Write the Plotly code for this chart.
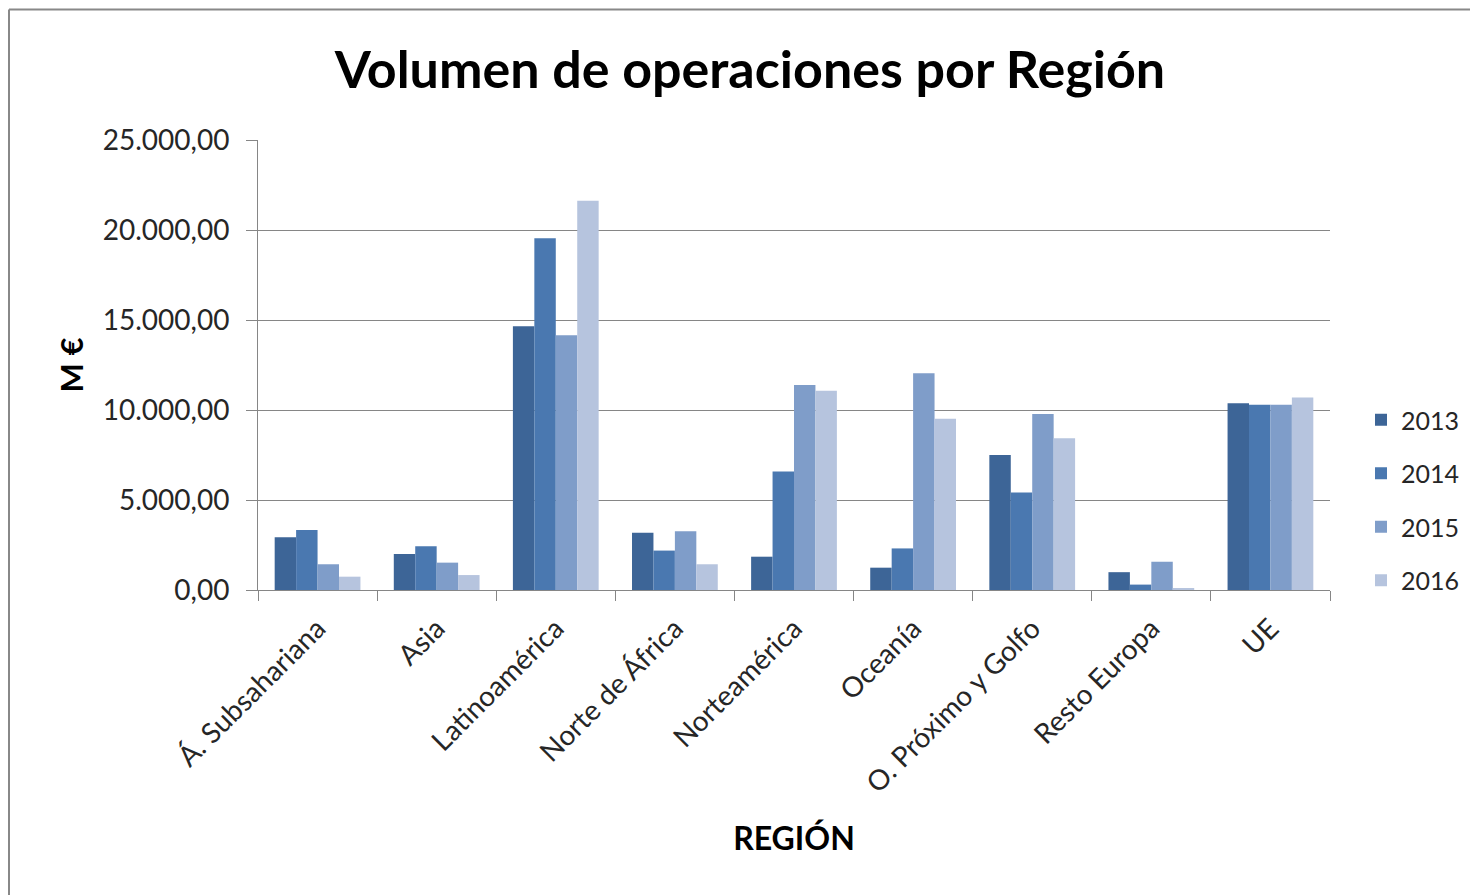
import plotly.graph_objects as go

regions = ["Á. Subsahariana", "Asia", "Latinoamérica", "Norte de África",
           "Norteamérica", "Oceanía", "O. Próximo y Golfo", "Resto Europa", "UE"]
years = ["2013", "2014", "2015", "2016"]

v2013 = [2930, 2000, 14650, 3185, 1850, 1240, 7500, 990, 10380]
v2014 = [3330, 2430, 19540, 2190, 6590, 2310, 5410, 300, 10290]
v2015 = [1430, 1520, 14150, 3260, 11390, 12040, 9780, 1570, 10290]
v2016 = [740, 830, 21630, 1430, 11070, 9520, 8430, 70, 10700]

series = [v2013, v2014, v2015, v2016]
colors = ["#3D6597", "#4A78B0", "#7F9DC9", "#B6C4DE"]

FONT = "Lato"

fig = go.Figure()
for i, (y, vals) in enumerate(zip(years, series)):
    fig.add_trace(go.Bar(
        name=y, x=regions, y=vals,
        marker=dict(color=colors[i], line=dict(width=0)),
        legendgroup=y,
    ))

# page has an 8px body margin; figure coordinates = page - 8
W, H = 1470, 887
L, T = 250, 132
pw, ph = 1072, 450
R, B = W - L - pw, H - T - ph

def px2x(p):
    return (p - L) / pw

def px2y(p):
    return (T + ph - p) / ph

fig.update_layout(
    width=W, height=H,
    margin=dict(l=L, r=R, t=T, b=B, autoexpand=False),
    paper_bgcolor="white", plot_bgcolor="white",
    separators=",.",
    barmode="group", bargap=0.28, bargroupgap=0,
    title=dict(text="<b>Volumen de operaciones por Región</b>",
               x=742 / W, xanchor="center", y=1 - 62 / H, yanchor="middle",
               font=dict(family=FONT, size=52, color="#000000")),
    font=dict(family=FONT, color="#262626"),
    legend=dict(x=px2x(1353), xanchor="left", y=px2y(389), yanchor="top",
                font=dict(family=FONT, size=25, color="#262626"),
                tracegroupgap=18, bgcolor="rgba(0,0,0,0)"),
    showlegend=True,
)

fig.update_xaxes(
    type="category",
    tickangle=-45,
    tickfont=dict(family=FONT, size=28, color="#262626"),
    showline=True, linecolor="#868686", linewidth=1,
    ticks="outside", ticklen=10, tickcolor="#868686", tickson="boundaries",
    showgrid=False,
    ticklabelstandoff=10,
    title=dict(text="<b>REGIÓN</b>", font=dict(family=FONT, size=32, color="#000000"), standoff=29),
    automargin=False,
)
fig.update_yaxes(
    range=[0, 25000], tick0=0, dtick=5000, tickformat=",.2f",
    tickfont=dict(family=FONT, size=28, color="#262626"),
    showline=True, linecolor="#868686", linewidth=1,
    ticks="outside", ticklen=11, tickcolor="#868686",
    showgrid=True, gridcolor="#868686", gridwidth=1,
    zeroline=False,
    ticklabelstandoff=11,
    title=dict(text="<b>M €</b>", font=dict(family=FONT, size=31, color="#000000"), standoff=9),
    automargin=False,
)

# outer chart-area border (top and left edges visible)
fig.add_shape(type="line", xref="paper", yref="paper",
              x0=px2x(1), x1=px2x(W + 5), y0=px2y(1.5), y1=px2y(1.5),
              line=dict(color="#888888", width=2))
fig.add_shape(type="line", xref="paper", yref="paper",
              x0=px2x(1), x1=px2x(1), y0=px2y(1.5), y1=px2y(H + 5),
              line=dict(color="#888888", width=2))

fig.write_html("out.html")
